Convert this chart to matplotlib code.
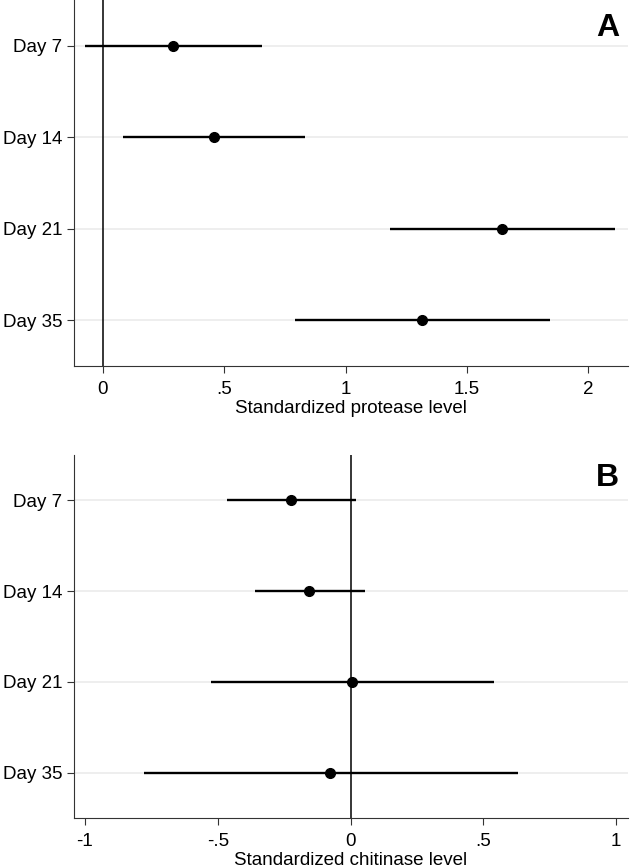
import numpy as np
import matplotlib.pyplot as plt

plt.rcParams['font.family'] = ['Liberation Sans', 'DejaVu Sans']

days = ['Day 7', 'Day 14', 'Day 21', 'Day 35']

# panel A: protease
prot_est = [0.288, 0.457, 1.646, 1.314]
prot_lo = [-0.074, 0.084, 1.185, 0.790]
prot_hi = [0.655, 0.832, 2.109, 1.842]

# panel B: chitinase
chit_est = [-0.223, -0.155, 0.006, -0.078]
chit_lo = [-0.464, -0.358, -0.524, -0.777]
chit_hi = [0.022, 0.053, 0.539, 0.630]

W, H = 630, 867
fig = plt.figure(figsize=(W/100, H/100), dpi=100)

def panel(box, est, lo, hi, xlim, ticks, ticklabels, xlabel, letter, letter_y):
    l, t, r, b = box
    ax = fig.add_axes([l/W, 1-b/H, (r-l)/W, (b-t)/H])
    y = np.arange(len(days))
    for yy in y:
        ax.axhline(yy, color='#ebebeb', lw=1.2, zorder=0)
    ax.axvline(0, color='black', lw=1.1, zorder=1)
    ax.hlines(y, lo, hi, color='black', lw=1.7, zorder=2)
    ax.plot(est, y, 'o', color='black', ms=7, zorder=3)
    ax.set_ylim(len(days)-0.5, -0.5)
    ax.set_xlim(*xlim)
    ax.set_yticks(y)
    ax.set_yticklabels(days)
    ax.set_xticks(ticks)
    ax.set_xticklabels(ticklabels)
    ax.tick_params(axis='both', labelsize=13.5, length=5, width=0.8, color='#333333')
    ax.tick_params(axis='x', pad=6)
    ax.tick_params(axis='y', pad=3)
    ax.set_xlabel(xlabel, fontsize=13.5, labelpad=1)
    for s in ['top', 'right']:
        ax.spines[s].set_visible(False)
    for s in ['left', 'bottom']:
        ax.spines[s].set_color('#333333')
        ax.spines[s].set_linewidth(0.8)
    # panel letter placed in figure pixels
    fig.text(619/W, 1-letter_y/H, letter, ha='right', va='top',
             fontsize=23, fontweight='bold')
    return ax

panel((73.5, 0, 627.5, 366), prot_est, prot_lo, prot_hi, (-0.121, 2.162),
      [0, 0.5, 1, 1.5, 2], ['0', '.5', '1', '1.5', '2'],
      'Standardized protease level', 'A', 13)
panel((73.5, 455, 627.5, 818), chit_est, chit_lo, chit_hi, (-1.043, 1.043),
      [-1, -0.5, 0, 0.5, 1], ['-1', '-.5', '0', '.5', '1'],
      'Standardized chitinase level', 'B', 463)

fig.savefig('out.png', dpi=100)
